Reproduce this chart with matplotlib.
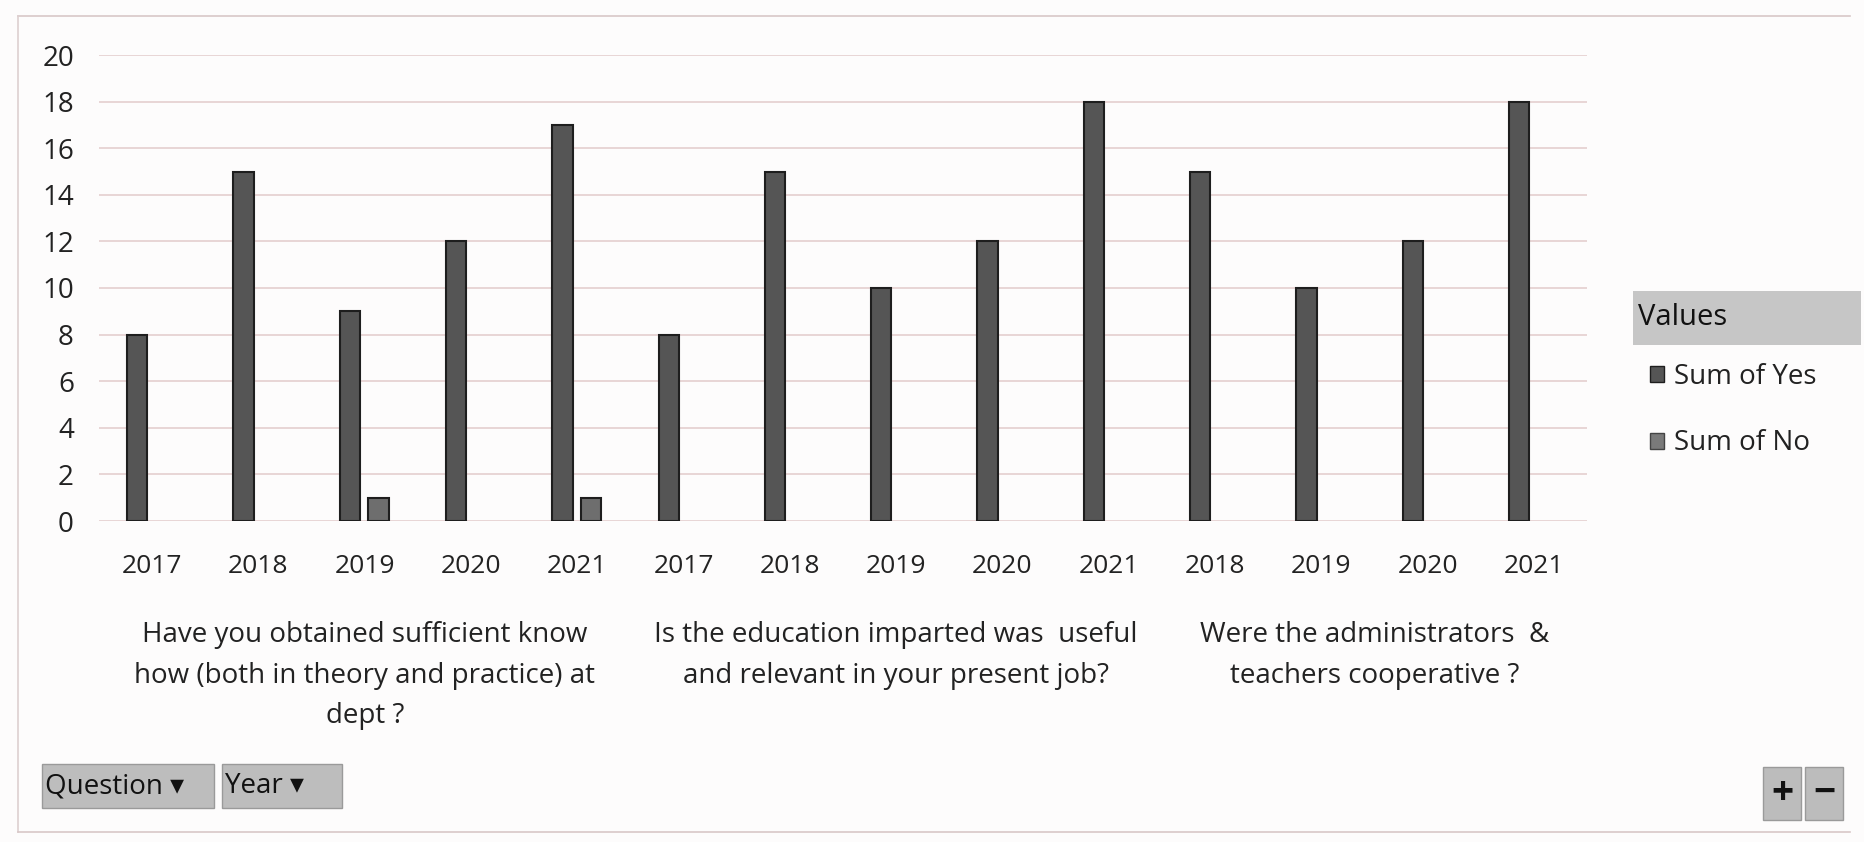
"""Pivot chart: Sum of Yes / Sum of No per question and year."""
import numpy as np
import matplotlib.pyplot as plt
from matplotlib.patches import Rectangle, Patch

plt.rcParams['font.family'] = ['Open Sans', 'DejaVu Sans']

years = ['2017', '2018', '2019', '2020', '2021',
         '2017', '2018', '2019', '2020', '2021',
         '2018', '2019', '2020', '2021']
sum_yes = [8, 15, 9, 12, 17,
           8, 15, 10, 12, 18,
           15, 10, 12, 18]
sum_no = [0, 0, 1, 0, 1,
          0, 0, 0, 0, 0,
          0, 0, 0, 0]
questions = [
    'Have you obtained sufficient know\nhow (both in theory and practice) at\ndept ?',
    'Is the education imparted was  useful\nand relevant in your present job?',
    'Were the administrators  &\nteachers cooperative ?',
]
question_spans = [(0, 4), (5, 9), (10, 13)]

YES_C = '#555555'
NO_C = '#6e6e6e'
GRID_C = '#e6d3d3'
TXT = '#222222'

W, H = 1865, 842
fig = plt.figure(figsize=(W / 100, H / 100), dpi=100)
fig.patch.set_facecolor('#fdfcfc')
ax = fig.add_axes([99 / W, 1 - 521 / H, 1488 / W, 466 / H])
ax.set_facecolor('none')

x = np.arange(len(years))
bw = 0.19
ax.bar(x - 0.14, sum_yes, width=bw, color=YES_C, edgecolor='#1e1e1e',
       linewidth=1.5, label='Sum of Yes', zorder=3)
no_bars = ax.bar(x + 0.13, sum_no, width=bw, color=NO_C, edgecolor='#1e1e1e',
                 linewidth=1.5, label='Sum of No', zorder=3)
for b, v in zip(no_bars, sum_no):
    if v == 0:
        b.set_visible(False)

ax.set_xlim(-0.5, len(years) - 0.5)
ax.set_ylim(0, 20)
ax.set_yticks(np.arange(0, 21, 2))
ax.yaxis.grid(True, color=GRID_C, linewidth=1.3)
ax.set_axisbelow(True)
for s in ax.spines.values():
    s.set_visible(False)
ax.tick_params(length=0, labelcolor=TXT)
ax.tick_params(axis='y', pad=18, labelsize=20)
ax.tick_params(axis='x', pad=24, labelsize=19)
ax.set_xticks(x)
ax.set_xticklabels(years)

for q, (a, b) in zip(questions, question_spans):
    ax.text((a + b) / 2, -0.215, q, transform=ax.get_xaxis_transform(),
            ha='center', va='top', fontsize=20, color=TXT, linespacing=1.6,
            multialignment='center')

# legend
fig.patches.append(Rectangle((1633 / W, 1 - 345 / H), 228 / W, 54 / H,
                             transform=fig.transFigure, facecolor='#c6c6c6',
                             edgecolor='none'))
fig.text(1638 / W, 1 - 318 / H, 'Values', fontsize=21, color='#111111',
         ha='left', va='center')
fig.legend(handles=[Patch(facecolor=YES_C, edgecolor='#1e1e1e', label='Sum of Yes'),
                    Patch(facecolor='#7a7a7a', edgecolor='#444444', label='Sum of No')],
           loc='center left', bbox_to_anchor=(1650 / W, 1 - 410 / H),
           frameon=False, fontsize=20, labelcolor=TXT, handlelength=0.5,
           handleheight=0.5, handletextpad=0.35, labelspacing=1.4,
           borderpad=0, borderaxespad=0)

# pivot field buttons
for (x0, x1, label) in [(42, 214, 'Question \u25be'), (222, 342, 'Year \u25be')]:
    fig.patches.append(Rectangle((x0 / W, 1 - 808 / H), (x1 - x0) / W, 44 / H,
                                 transform=fig.transFigure, facecolor='#bdbdbd',
                                 edgecolor='#9a9a9a', linewidth=1))
    fig.text((x0 + 3) / W, 1 - 786 / H, label, fontsize=20, color='#111111',
             ha='left', va='center')

for (x0, sym) in [(1763, '+'), (1805, '\u2212')]:
    fig.patches.append(Rectangle((x0 / W, 1 - 820 / H), 38 / W, 53 / H,
                                 transform=fig.transFigure, facecolor='#bcbcbc',
                                 edgecolor='#9a9a9a', linewidth=1))
    fig.text((x0 + 19) / W, 1 - 793 / H, sym, fontsize=28, fontweight='bold',
             color='#111111', ha='center', va='center')

# chart frame
fig.add_artist(plt.Line2D([18 / W, 1850 / W], [1 - 16 / H, 1 - 16 / H],
                          color='#d8c8c8', linewidth=1.2))
fig.add_artist(plt.Line2D([18 / W, 18 / W], [1 - 16 / H, 1 - 832 / H],
                          color='#ddd0d0', linewidth=1.2))
fig.add_artist(plt.Line2D([18 / W, 1850 / W], [1 - 832 / H, 1 - 832 / H],
                          color='#d8c8c8', linewidth=1.2))

fig.savefig('out.png', dpi=100)
